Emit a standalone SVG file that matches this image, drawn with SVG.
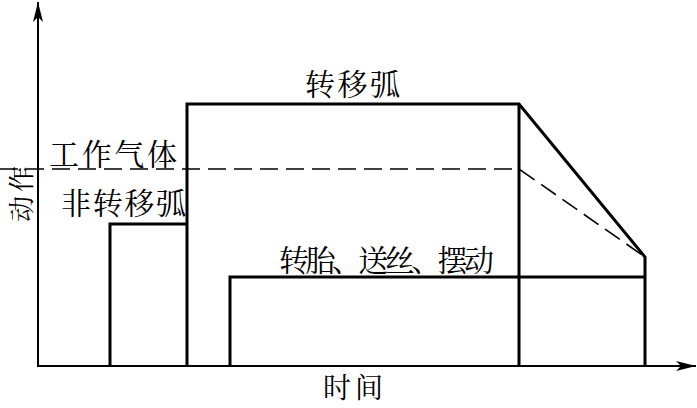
<svg xmlns="http://www.w3.org/2000/svg" width="697" height="408" viewBox="0 0 697 408">
<style>
text{font-family:"Noto Serif CJK SC","Noto Sans CJK SC",sans-serif;fill:#000;}
.t{font-size:30px;}
.thick{fill:none;stroke:#000;stroke-width:3;stroke-linejoin:miter;}
.axis{fill:none;stroke:#000;stroke-width:2;}
.dash{fill:none;stroke:#000;stroke-width:1.6;stroke-dasharray:18,8;}
</style>
<defs>
<marker id="arr" viewBox="0 0 20 10" refX="20" refY="5" markerWidth="20" markerHeight="10" markerUnits="userSpaceOnUse" orient="auto">
<path d="M0,0 L20,5 L0,10 L5,5 Z" fill="#000"/>
</marker>
</defs>
<g id="axes">
<line class="axis" x1="38" y1="366" x2="38" y2="2" marker-end="url(#arr)"/>
<line class="axis" x1="37" y1="366" x2="696" y2="366" marker-end="url(#arr)"/>
<text class="t" style="font-size:26px" transform="translate(31,222) rotate(-90)" textLength="56">动作</text>
<text class="t" style="font-size:28px" x="323" y="398" textLength="60">时间</text>
</g>
<g id="non-transfer-arc">
<polyline class="thick" points="110,366 110,224 187,224"/>
<text class="t" x="61" y="214" textLength="125">非转移弧</text>
</g>
<g id="transfer-arc">
<polyline class="thick" points="187,366 187,104 519,104 645,257 645,366"/>
<line class="thick" x1="519" y1="104" x2="519" y2="366"/>
<text class="t" x="305" y="95" textLength="95">转移弧</text>
</g>
<g id="work-gas">
<polyline class="dash" points="0,169 519,169 645,257"/>
<text class="t" x="49" y="165" textLength="128">工作气体</text>
</g>
<g id="rotation">
<polyline class="thick" points="230,366 230,277 645,277"/>
<text class="t" x="279" y="271" textLength="215">转胎、送丝、摆动</text>
</g>
</svg>
